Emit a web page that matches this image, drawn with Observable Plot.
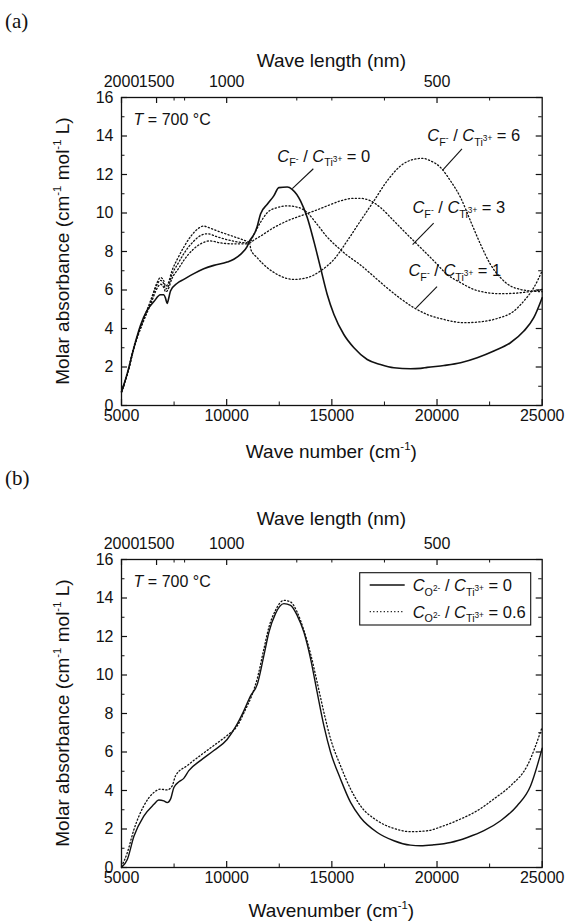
<!DOCTYPE html>
<html><head><meta charset="utf-8">
<script src="https://cdn.jsdelivr.net/npm/d3@7"></script>
<script src="https://cdn.jsdelivr.net/npm/@observablehq/plot@0.6"></script>
<style>
html,body{margin:0;padding:0;background:#fff;}
#wrap{position:relative;width:565px;height:921px;overflow:hidden;font-family:"Liberation Sans",Arial,sans-serif;}
.tag{position:absolute;left:5px;font-family:"Liberation Serif","Times New Roman",serif;font-size:21px;line-height:24px;color:#111;}
#wrap svg{position:absolute;left:0;}
</style></head><body><div id="wrap"></div>
<script>
// ---------- axis ticks ----------
const xDomain = [5000, 25000];
const yDomain = [0, 16];
const bottomMajor = [5000, 10000, 15000, 20000, 25000];
const bottomMinor = [7500, 12500, 17500, 22500];
const topWavelengthNm = [2000, 1500, 1000, 500];
const topMinorWn = [7500, 8000, 13333, 15000, 17500, 22500];
const yMajor = [0, 2, 4, 6, 8, 10, 12, 14, 16];
const yMinor = [1, 3, 5, 7, 9, 11, 13, 15];

// ---------- panel (a): C_F- / C_Ti3+ ----------
const aF0_wn = [5000,5270,5590,5900,6220,6540,6850,7010,7100,7170,7250,7330,7650,7960,8440,8910,9390,10020,10340,10660,10970,11090,11350,11450,11610,11930,12240,12480,12880,13110,13510,13830,14140,14460,14780,15100,15570,16050,16680,17310,17950,18740,19220,19530,20330,21120,21910,22700,23490,24130,24600,25000];
const aF0_abs = [0.7,1.65,3.0,4.15,4.95,5.4,5.75,5.75,5.55,5.3,5.6,5.95,6.35,6.55,6.85,7.1,7.28,7.45,7.6,7.85,8.25,8.55,9.0,9.3,9.95,10.45,10.89,11.32,11.35,11.23,10.63,9.76,8.55,7.16,5.77,4.73,3.69,3.0,2.39,2.13,1.96,1.91,1.93,1.98,2.08,2.22,2.48,2.83,3.26,3.87,4.56,5.6];

const aF1_wn = [5000,5300,5600,6000,6400,6700,6850,7000,7100,7200,7400,7700,8000,8300,8600,8900,9200,9600,10000,10400,10800,11100,11300,11600,11930,12400,12880,13350,13830,14300,14780,15250,15730,16360,17000,17630,18270,18900,19530,20330,21280,22070,22860,23650,24130,24600,25000];
const aF1_abs = [0.7,1.75,3.1,4.35,5.5,6.4,6.65,6.5,6.2,6.3,7.0,7.7,8.3,8.8,9.15,9.32,9.22,9.05,8.9,8.75,8.6,8.5,8.9,9.5,10.02,10.28,10.37,10.31,10.02,9.41,8.75,8.25,7.8,7.3,6.7,6.1,5.55,5.08,4.73,4.47,4.3,4.35,4.52,4.9,5.43,6.12,7.0];

const aF3_wn = [5000,5300,5600,6000,6400,6700,6850,7000,7100,7200,7400,7700,8000,8400,8800,9100,9500,10000,10500,11100,11300,11610,12240,12880,13510,14140,14780,15410,16050,16360,16840,17310,17950,18580,19220,19850,20480,21120,21750,22390,23020,23650,24290,25000];
const aF3_abs = [0.7,1.72,3.05,4.3,5.4,6.3,6.5,6.35,6.05,6.15,6.8,7.4,7.95,8.5,8.85,8.92,8.78,8.62,8.5,8.45,8.6,8.8,9.24,9.59,9.85,10.1,10.37,10.63,10.76,10.76,10.63,10.28,9.59,8.89,8.2,7.51,6.81,6.38,6.03,5.86,5.81,5.83,5.9,6.03];

const aF6_wn = [5000,5300,5600,6000,6400,6700,6850,7000,7100,7200,7400,7700,8000,8400,8800,9200,9700,10200,10700,11100,11150,11450,11930,12400,13190,13830,14460,15100,15730,16360,17000,17630,18270,18900,19300,19690,20170,20640,21120,21590,22070,22540,23020,23490,23970,24450,25000];
const aF6_abs = [0.7,1.7,3.0,4.25,5.3,6.1,6.3,6.15,5.9,6.0,6.6,7.1,7.6,8.1,8.42,8.55,8.45,8.4,8.4,8.4,8.1,7.68,7.16,6.81,6.55,6.64,6.99,7.59,8.55,9.59,10.63,11.67,12.45,12.79,12.84,12.71,12.36,11.67,10.8,9.59,8.37,7.33,6.64,6.21,6.03,5.95,5.91];

// annotation labels (value of the ratio, label centre, leader line) in data units
const aLabelRatio = ["0", "6", "3", "1"];
const aLabelWn = [14640, 21770, 21060, 20870];
const aLabelAbs = [12.95, 14.0, 10.27, 6.98];
const aLeaderFrom = [[14120, 12.3], [21186, 13.33], [19840, 9.47], [20000, 6.18]];
const aLeaderTo = [[13120, 11.27], [20280, 12.24], [18840, 8.36], [19010, 5.07]];

// ---------- panel (b): C_O2- / C_Ti3+ ----------
const bO0_wn = [5000,5270,5590,6060,6540,6770,7010,7170,7330,7490,7730,7960,8200,8750,9390,10020,10420,10800,11130,11450,11770,12010,12320,12720,13040,13350,13670,13990,14300,14620,14940,15410,15890,16360,17160,17950,18740,19220,19850,20640,21440,22230,23020,23810,24450,25000];
const bO0_abs = [0,0.4,1.62,2.67,3.28,3.51,3.46,3.37,3.55,4.16,4.45,4.63,5.03,5.55,6.08,6.65,7.3,8.1,8.9,9.5,11.02,12.23,13.19,13.71,13.62,13.1,12.23,10.84,9.11,7.37,5.99,4.6,3.38,2.6,1.82,1.39,1.16,1.13,1.18,1.3,1.56,1.91,2.43,3.21,4.25,6.2];

const bO06_wn = [5000,5270,5590,6060,6540,6850,7170,7410,7570,8120,8750,9390,10020,10500,10890,11200,11450,11770,12010,12320,12720,13040,13350,13670,13990,14300,14620,14940,15410,15890,16360,17160,17950,18740,19540,20330,21120,21910,22700,23500,24290,25000];
const bO06_abs = [0.05,0.75,1.97,3.2,3.9,4.07,4.03,4.24,4.77,5.29,5.82,6.34,6.86,7.35,8.2,8.95,9.8,11.36,12.49,13.36,13.88,13.79,13.27,12.32,11.1,9.63,8.07,6.68,5.29,4.08,3.21,2.43,2.03,1.86,1.91,2.17,2.52,2.95,3.56,4.25,5.29,7.3];
const bLegendRatio = ["0", "0.6"];

const tempLabelWn = 5600;
const tempLabelAbs = 14.85;

// ---------- helpers ----------
const rows = (wn, abs) => wn.map((w, i) => ({wn: w, abs: abs[i]}));

function richText(g, parts, {x, y, size, anchor = "start", rotate = 0}) {
  const t = g.append("text")
    .attr("transform", `translate(${x},${y})` + (rotate ? ` rotate(${rotate})` : ""))
    .attr("font-size", size).attr("text-anchor", anchor).attr("fill", "#111")
    .style("white-space", "pre");
  let cur = 0;
  for (const p of parts) {
    const s = typeof p === "string" ? {t: p} : p;
    let shift = 0, fs = size;
    if (s.sub) { shift = 0.3 * size; fs = 0.65 * size; }
    else if (s.ss) { shift = 0.0 * size; fs = 0.5 * size; }
    else if (s.sup) { shift = -0.42 * size; fs = 0.6 * size; }
    const ts = t.append("tspan").attr("dy", (shift - cur).toFixed(2)).attr("font-size", fs.toFixed(2)).text(s.t);
    if (s.i) ts.attr("font-style", "italic");
    cur = shift;
  }
  return t;
}

const ratioParts = (ion, ionCharge, v) => [
  {t: "C", i: true}, {t: ion, sub: true}, {t: ionCharge, ss: true},
  " / ", {t: "C", i: true}, {t: "Ti", sub: true}, {t: "3+", ss: true}, ` = ${v}`
];
const tempParts = [{t: "T", i: true}, " = 700 \u00B0C"];

function titlesMark(xTitle, topGap, bottomGap) {
  return (index, scales, values, d) => {
    const g = d3.create("svg:g");
    const cx = (d.marginLeft + d.width - d.marginRight) / 2;
    const top = d.marginTop, bottom = d.height - d.marginBottom;
    const cy = (top + bottom) / 2;
    richText(g, ["Wave length (nm)"], {x: cx, y: top - topGap + 6.5, size: 19, anchor: "middle"});
    richText(g, xTitle, {x: cx, y: bottom + bottomGap + 6.5, size: 19, anchor: "middle"});
    richText(g, ["Molar absorbance (cm", {t: "-1", sup: true}, " mol", {t: "-1", sup: true}, " L)"],
      {x: d.marginLeft - 59 + 6.5, y: cy, size: 19, anchor: "middle", rotate: -90});
    richText(g, tempParts, {x: scales.x(tempLabelWn), y: scales.y(tempLabelAbs) + 5.6, size: 16});
    return g.node();
  };
}

function panel({height, marginTop, marginBottom, lines, extra, xTitle, topGap, bottomGap}) {
  const W = 565, ML = 121, MR = 23.3;
  const fh = height - marginTop - marginBottom, fw = W - ML - MR;
  const fmt = d3.format("d");
  return Plot.plot({
    width: W, height, marginLeft: ML, marginRight: MR, marginTop, marginBottom,
    x: {domain: xDomain}, y: {domain: yDomain},
    style: {fontFamily: "'Liberation Sans', Arial, sans-serif", fontSize: "16px", color: "#111", background: "white", overflow: "visible"},
    marks: [
      ...lines,
      Plot.frame({stroke: "#111", strokeWidth: 1.3}),
      Plot.tickX(bottomMajor, {x: d => d, stroke: "#111", strokeWidth: 1.2, insetTop: fh - 6}),
      Plot.tickX(bottomMinor, {x: d => d, stroke: "#111", strokeWidth: 1, insetTop: fh - 3.5}),
      Plot.tickX(topWavelengthNm.map(l => 1e7 / l), {x: d => d, stroke: "#111", strokeWidth: 1.2, insetBottom: fh - 6}),
      Plot.tickX(topMinorWn, {x: d => d, stroke: "#111", strokeWidth: 1, insetBottom: fh - 3.5}),
      Plot.tickY(yMajor, {y: d => d, stroke: "#111", strokeWidth: 1.2, insetRight: fw - 6}),
      Plot.tickY(yMinor, {y: d => d, stroke: "#111", strokeWidth: 1, insetRight: fw - 3.5}),
      Plot.tickY(yMajor, {y: d => d, stroke: "#111", strokeWidth: 1.2, insetLeft: fw - 6}),
      Plot.tickY(yMinor, {y: d => d, stroke: "#111", strokeWidth: 1, insetLeft: fw - 3.5}),
      Plot.axisX(bottomMajor, {anchor: "bottom", tickSize: 0, tickPadding: 4, tickFormat: fmt, label: null}),
      Plot.axisX(topWavelengthNm.map(l => 1e7 / l), {anchor: "top", tickSize: 0, tickPadding: 11, tickFormat: d => fmt(Math.round(1e7 / d)), label: null}),
      Plot.axisY(yMajor, {anchor: "left", tickSize: 0, tickPadding: 8, tickFormat: fmt, label: null}),
      titlesMark(xTitle, topGap, bottomGap),
      ...extra
    ]
  });
}

const solid = (data, w) => Plot.line(data, {x: "wn", y: "abs", stroke: "#111", strokeWidth: w, curve: "monotone-x"});
const dotted = (data) => Plot.line(data, {x: "wn", y: "abs", stroke: "#111", strokeWidth: 1.3, strokeDasharray: "1.2,2.3", curve: "monotone-x"});

// panel (a)
const leaderRows = aLeaderFrom.map((f, i) => ({x1: f[0], y1: f[1], x2: aLeaderTo[i][0], y2: aLeaderTo[i][1]}));
const aLabels = (index, scales) => {
  const g = d3.create("svg:g");
  aLabelRatio.forEach((v, i) => {
    richText(g, ratioParts("F", "-", v), {x: scales.x(aLabelWn[i]), y: scales.y(aLabelAbs[i]) + 5.8, size: 16.5, anchor: "middle"});
  });
  return g.node();
};
const plotA = panel({
  height: 440, marginTop: 67, marginBottom: 65, topGap: 37, bottomGap: 46,
  lines: [solid(rows(aF0_wn, aF0_abs), 1.6), dotted(rows(aF1_wn, aF1_abs)), dotted(rows(aF3_wn, aF3_abs)), dotted(rows(aF6_wn, aF6_abs))],
  extra: [Plot.link(leaderRows, {x1: "x1", y1: "y1", x2: "x2", y2: "y2", stroke: "#111", strokeWidth: 1.1}), aLabels],
  xTitle: ["Wave number (cm", {t: "-1", sup: true}, ")"]
});

// panel (b)
const bLegend = (index, scales, values, d) => {
  const g = d3.create("svg:g");
  const right = d.width - d.marginRight - 11, top = d.marginTop + 13.7, w = 171, h = 52.3, left = right - w;
  g.append("rect").attr("x", left).attr("y", top).attr("width", w).attr("height", h)
    .attr("fill", "white").attr("stroke", "#111").attr("stroke-width", 1.1);
  const rowsY = [top + 12.3, top + 39];
  rowsY.forEach((ry, i) => {
    g.append("line").attr("x1", left + 10).attr("x2", left + 45).attr("y1", ry).attr("y2", ry)
      .attr("stroke", "#111").attr("stroke-width", 1.3).attr("stroke-dasharray", i ? "1.2,2.3" : null);
    richText(g, ratioParts("O", "2-", bLegendRatio[i]), {x: left + 53, y: ry + 5.8, size: 16.5});
  });
  return g.node();
};
const plotB = panel({
  height: 441, marginTop: 79, marginBottom: 54, topGap: 41, bottomGap: 43,
  lines: [solid(rows(bO0_wn, bO0_abs), 1.4), dotted(rows(bO06_wn, bO06_abs))],
  extra: [bLegend],
  xTitle: ["Wavenumber (cm", {t: "-1", sup: true}, ")"]
});

const wrap = document.getElementById("wrap");
plotA.style.top = "30px";
plotB.style.top = "480px";
wrap.append(plotA, plotB);
const tagA = document.createElement("div"); tagA.className = "tag"; tagA.style.top = "9px"; tagA.textContent = "(a)";
const tagB = document.createElement("div"); tagB.className = "tag"; tagB.style.top = "466px"; tagB.textContent = "(b)";
wrap.append(tagA, tagB);
</script></body></html>
